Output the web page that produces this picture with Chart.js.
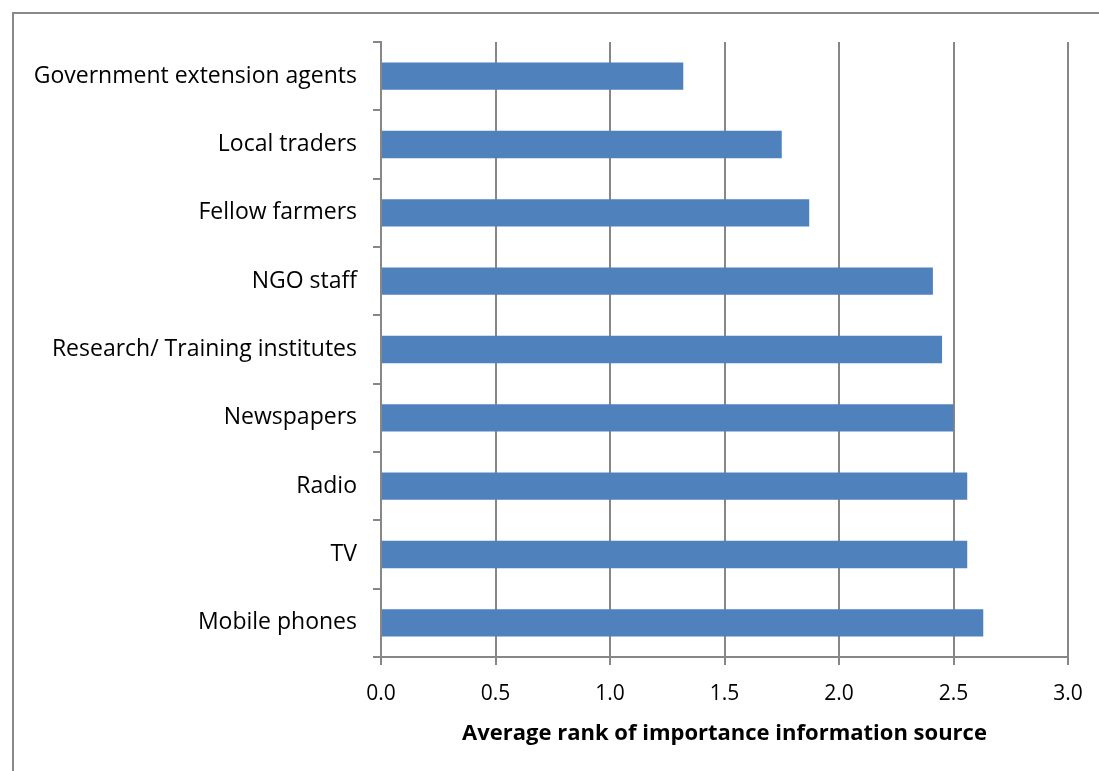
<!DOCTYPE html>
<html lang="en">

<head>
    <meta charset="UTF-8">
    <title>Average rank of importance information source</title>
    <script src="https://cdn.jsdelivr.net/npm/chart.js"></script>
    <style>
        body { margin: 0; background: #fff; }
        #wrap { position: relative; width: 1099px; height: 771px; overflow: hidden; }
        #frame {
            position: absolute; left: 12px; top: 12px; width: 1200px; height: 900px;
            border: 2px solid #898989; pointer-events: none;
        }
    </style>
</head>

<body>
    <div id="wrap">
        <canvas id="rankChart" width="1099" height="771"></canvas>
        <div id="frame"></div>
    </div>

    <script>
        const sources = ['Government extension agents', 'Local traders', 'Fellow farmers', 'NGO staff',
            'Research/ Training institutes', 'Newspapers', 'Radio', 'TV', 'Mobile phones'];
        const avgRank = [1.32, 1.75, 1.87, 2.41, 2.45, 2.50, 2.56, 2.56, 2.63];
        const axisTitle = 'Average rank of importance information source';

        const gray = '#878787';
        const font = 'Open Sans';

        new Chart(document.getElementById('rankChart').getContext('2d'), {
            type: 'bar',
            data: {
                labels: sources,
                datasets: [{
                    data: avgRank,
                    backgroundColor: '#4F81BD',
                    barPercentage: 0.4,
                    categoryPercentage: 1.0
                }]
            },
            options: {
                indexAxis: 'y',
                responsive: false,
                animation: false,
                layout: { padding: { top: 42, right: 31, left: 0, bottom: 0 } },
                plugins: { legend: { display: false }, tooltip: { enabled: false } },
                scales: {
                    x: {
                        min: 0,
                        max: 3,
                        afterFit: s => { s.height = 114; },
                        ticks: {
                            stepSize: 0.5,
                            padding: 16,
                            color: '#000',
                            font: { family: font, size: 21 },
                            callback: v => v.toFixed(1)
                        },
                        grid: { color: gray, lineWidth: 2, tickLength: 8 },
                        border: { color: gray, width: 2 },
                        title: {
                            display: true,
                            text: axisTitle,
                            color: '#000',
                            font: { family: font, size: 22, weight: 'bold' },
                            padding: { top: 10, bottom: 24 }
                        }
                    },
                    y: {
                        afterFit: s => { s.width = 381; },
                        ticks: {
                            padding: 16,
                            color: '#000',
                            font: { family: font, size: 23 }
                        },
                        grid: { drawOnChartArea: false, color: gray, lineWidth: 2, tickLength: 8 },
                        border: { color: gray, width: 2 }
                    }
                }
            }
        });
    </script>
</body>

</html>
